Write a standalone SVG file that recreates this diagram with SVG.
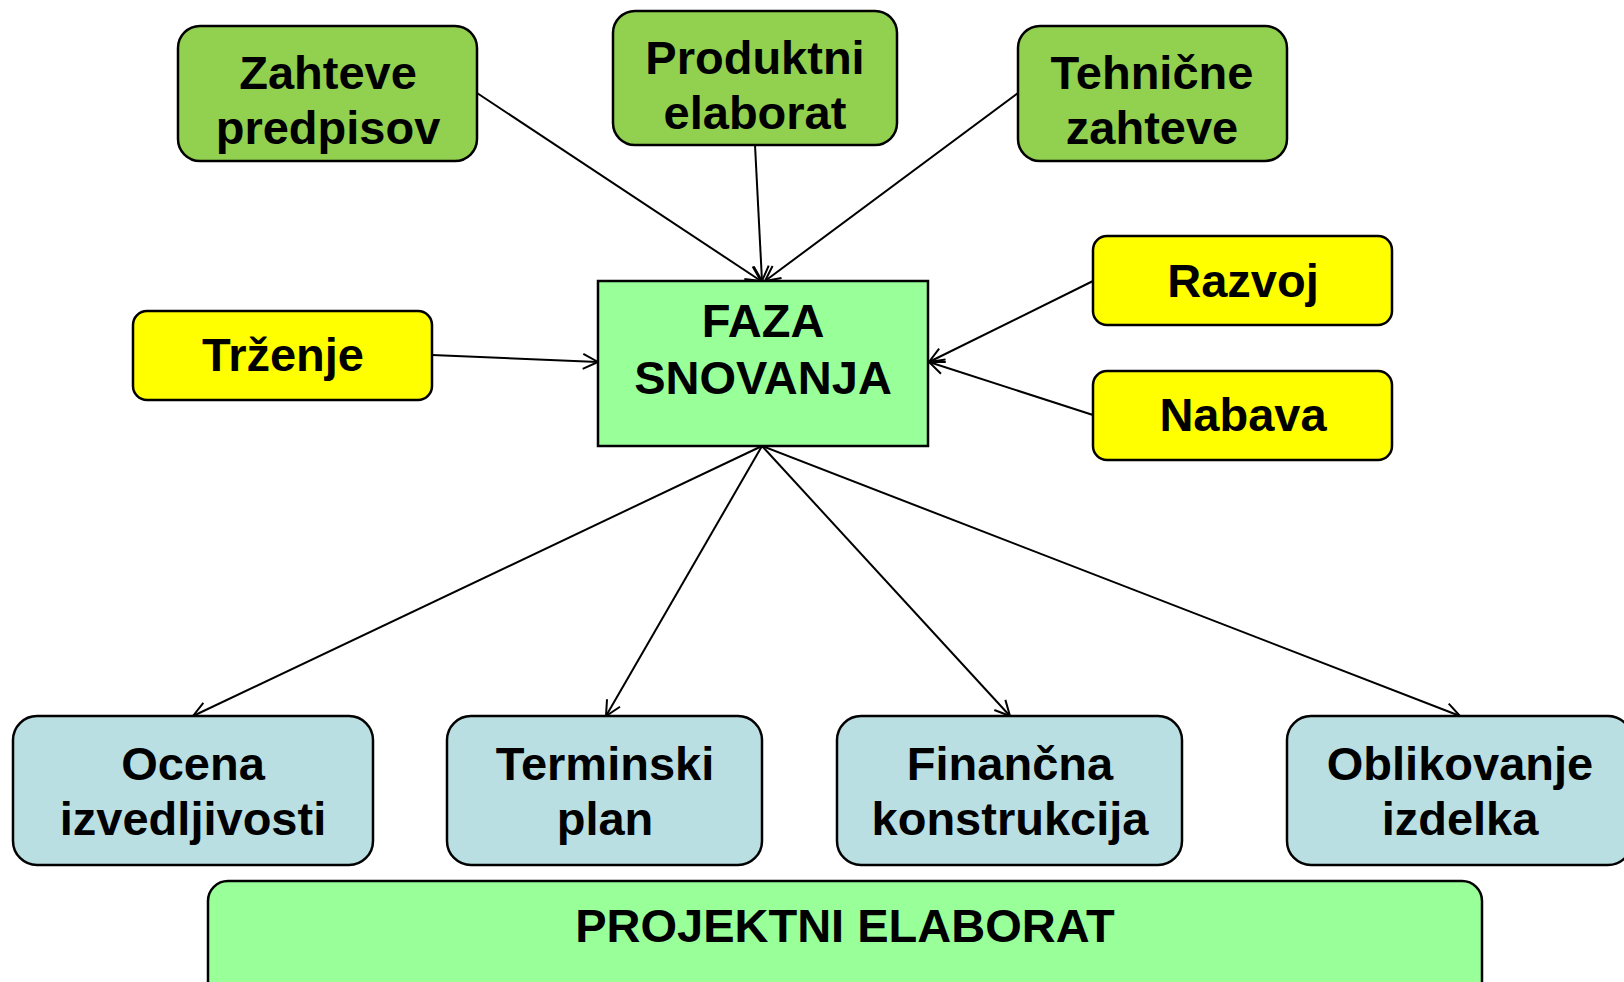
<svg xmlns="http://www.w3.org/2000/svg" width="1624" height="982" viewBox="0 0 1624 982">
<style>
.n{stroke:#000;stroke-width:2.5}
.g{fill:#92D050}
.y{fill:#FFFF00}
.b{fill:#BADFE3}
.m{fill:#99FF99}
text{font-family:"Liberation Sans",Arial,sans-serif;font-weight:bold;font-size:47px;fill:#000;text-anchor:middle}
.c line{stroke:#000;stroke-width:2;marker-end:url(#ah)}
</style>
<defs>
<marker id="ah" markerWidth="18" markerHeight="18" refX="16" refY="9" orient="auto" markerUnits="userSpaceOnUse">
<path d="M1,1.5 L16,9 L1,16.5" fill="none" stroke="#000" stroke-width="2"/>
</marker>
</defs>
<rect width="1624" height="982" fill="#fff"/>
<g class="c">
<line x1="477" y1="93" x2="761" y2="281"/>
<line x1="755" y1="145" x2="762" y2="281"/>
<line x1="1018" y1="93" x2="765" y2="281"/>
<line x1="432" y1="355" x2="598" y2="362"/>
<line x1="1093" y1="281" x2="929" y2="362"/>
<line x1="1093" y1="415" x2="929" y2="362"/>
<line x1="762" y1="446" x2="193" y2="716"/>
<line x1="762" y1="446" x2="606" y2="716"/>
<line x1="762" y1="446" x2="1010" y2="716"/>
<line x1="762" y1="446" x2="1460" y2="716"/>
</g>
<g id="zahteve-predpisov"><rect class="n g" x="178" y="26" width="299" height="135" rx="22"/><text x="328" y="89">Zahteve</text><text x="328" y="144">predpisov</text></g>
<g id="produktni-elaborat"><rect class="n g" x="613" y="11" width="284" height="134" rx="22"/><text x="755" y="74">Produktni</text><text x="755" y="129">elaborat</text></g>
<g id="tehnicne-zahteve"><rect class="n g" x="1018" y="26" width="269" height="135" rx="22"/><text x="1152" y="89">Tehnične</text><text x="1152" y="144">zahteve</text></g>
<g id="trzenje"><rect class="n y" x="133" y="311" width="299" height="89" rx="14"/><text x="283" y="371">Trženje</text></g>
<g id="faza-snovanja"><rect class="n m" x="598" y="281" width="330" height="165"/><text x="763" y="337">FAZA</text><text x="763" y="394">SNOVANJA</text></g>
<g id="razvoj"><rect class="n y" x="1093" y="236" width="299" height="89" rx="14"/><text x="1243" y="297">Razvoj</text></g>
<g id="nabava"><rect class="n y" x="1093" y="371" width="299" height="89" rx="14"/><text x="1243" y="431">Nabava</text></g>
<g id="ocena-izvedljivosti"><rect class="n b" x="13" y="716" width="360" height="149" rx="24"/><text x="193" y="780">Ocena</text><text x="193" y="835">izvedljivosti</text></g>
<g id="terminski-plan"><rect class="n b" x="447" y="716" width="315" height="149" rx="24"/><text x="605" y="780">Terminski</text><text x="605" y="835">plan</text></g>
<g id="financna-konstrukcija"><rect class="n b" x="837" y="716" width="345" height="149" rx="24"/><text x="1010" y="780">Finančna</text><text x="1010" y="835">konstrukcija</text></g>
<g id="oblikovanje-izdelka"><rect class="n b" x="1287" y="716" width="345" height="149" rx="24"/><text x="1460" y="780">Oblikovanje</text><text x="1460" y="835">izdelka</text></g>
<g id="projektni-elaborat"><rect class="n m" x="208" y="881" width="1274" height="120" rx="20"/><text x="845" y="942">PROJEKTNI ELABORAT</text></g>
</svg>
